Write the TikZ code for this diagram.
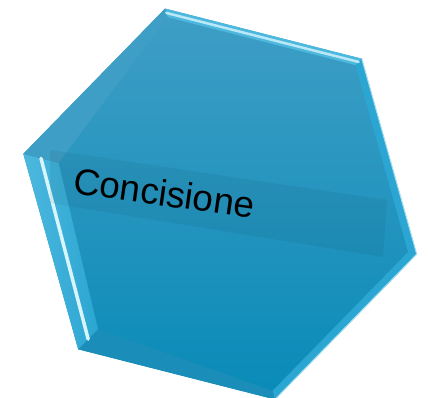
\documentclass[tikz,border=0pt]{standalone}
\usepackage{fontspec}
\setmainfont{Liberation Sans}
\usepackage{xcolor}
\usepackage{tikz}
\usetikzlibrary{calc}
\definecolor{hextop}{HTML}{3F9EC5}
\definecolor{hexbottom}{HTML}{0A8BB8}
\definecolor{bevellight}{HTML}{4DB8DE}
\definecolor{bevelside}{HTML}{2BA6D2}
\definecolor{beveldark}{HTML}{1A8DB8}
\definecolor{glintcol}{HTML}{D6F5FC}
\tikzset{
    hexbody/.style={top color=hextop, bottom color=hexbottom},
    bevel/.style={fill=#1},
    glint/.style={draw=glintcol, line width=#1, line cap=round},
    edgeline/.style={draw=#1, line width=1bp},
    labeltext/.style={font=\fontsize{37}{40}\selectfont, inner sep=0pt, anchor=base west}
}

\begin{document}
\begin{tikzpicture}[x=1bp, y=-1bp]
    \useasboundingbox (0,0) rectangle (428,398);
    \foreach \i in {0,...,5}{
      \coordinate (o\i) at ({220+203*cos(105.7-60*\i)},{204-203*sin(105.7-60*\i)});
      \coordinate (n\i) at ({220+194*cos(105.7-60*\i)},{204-194*sin(105.7-60*\i)});
    }
    \coordinate (m5) at ($(o5)!.09!(o2)$);
    \coordinate (m4) at ($(o4)!.07!(o1)$);
    \shade[hexbody] (o0) -- (o1) -- (o2) -- (o3) -- (o4) -- (o5) -- cycle;
    \fill[bevel=bevellight] (o0) -- (o1) -- (n1) -- (n0) -- cycle;
    \fill[bevel=bevelside] (o1) -- (o2) -- (n2) -- (n1) -- cycle;
    \fill[bevel=bevelside] (o2) -- (o3) -- (n3) -- (n2) -- cycle;
    \fill[bevel=beveldark] (o3) -- (o4) -- (m4) -- (n3) -- cycle;
    \shade[left color=bevellight, right color=bevelside] (o4) -- (o5) -- (m5) -- (m4) -- cycle;
    \fill[bevel=hextop] (o5) -- (o0) -- (n0) -- (m5) -- cycle;
    \shade[hexbody, opacity=.35] (n0) -- (n1) -- (n2) -- (n3) -- (m4) -- (m5) -- cycle;
    \path[glint=2.5bp, opacity=.8] ($(o0)!.5!(n0)$) -- ($(o1)!.5!(n1)$);
    \path[glint=3.5bp] ($(o5)!.5!(m5)$) -- ($(o4)!.5!(m4)$);
    \path[edgeline=glintcol!70!bevelside] (o1) -- (o2) -- (o3);
    \fill[black, opacity=.05] (50,150) -- (387,200) -- (383,257) -- (50,203) -- cycle;
    \node[labeltext, rotate=-8] (label) at (72,193) {Concisione};
\end{tikzpicture}
\end{document}
